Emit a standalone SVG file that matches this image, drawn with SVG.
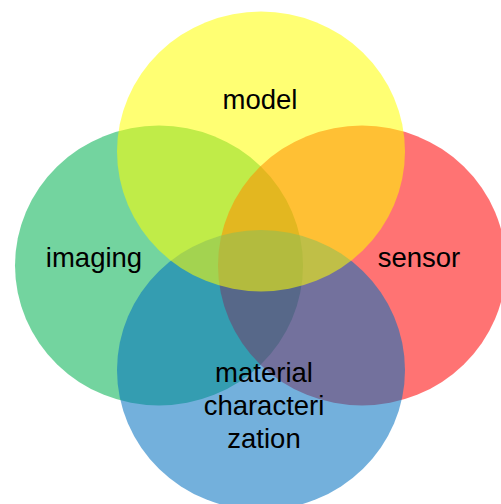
<svg xmlns="http://www.w3.org/2000/svg" width="501" height="504" viewBox="0 0 501 504">
<style>
.c{opacity:0.55}
.t{font-family:"Liberation Sans",Arial,sans-serif;font-size:27.5px;fill:#000;text-anchor:middle}
</style>
<rect width="501" height="504" fill="#fff"/>
<g id="imaging"><ellipse class="c" cx="159" cy="265.5" rx="144" ry="140" fill="#00B050"/></g>
<g id="sensor"><ellipse class="c" cx="362" cy="265.5" rx="144" ry="140" fill="#FF0000"/></g>
<g id="material"><ellipse class="c" cx="261" cy="370" rx="144" ry="140" fill="#0070C0"/></g>
<g id="model"><ellipse class="c" cx="261" cy="151.5" rx="144" ry="140" fill="#FFFF00"/></g>
<g id="labels">
<text class="t" x="260" y="109">model</text>
<text class="t" x="94" y="267">imaging</text>
<text class="t" x="419" y="267">sensor</text>
<text class="t" x="264" y="382">material</text>
<text class="t" x="264" y="415">characteri</text>
<text class="t" x="264" y="448">zation</text>
</g>
<g id="connectors"></g>
</svg>
